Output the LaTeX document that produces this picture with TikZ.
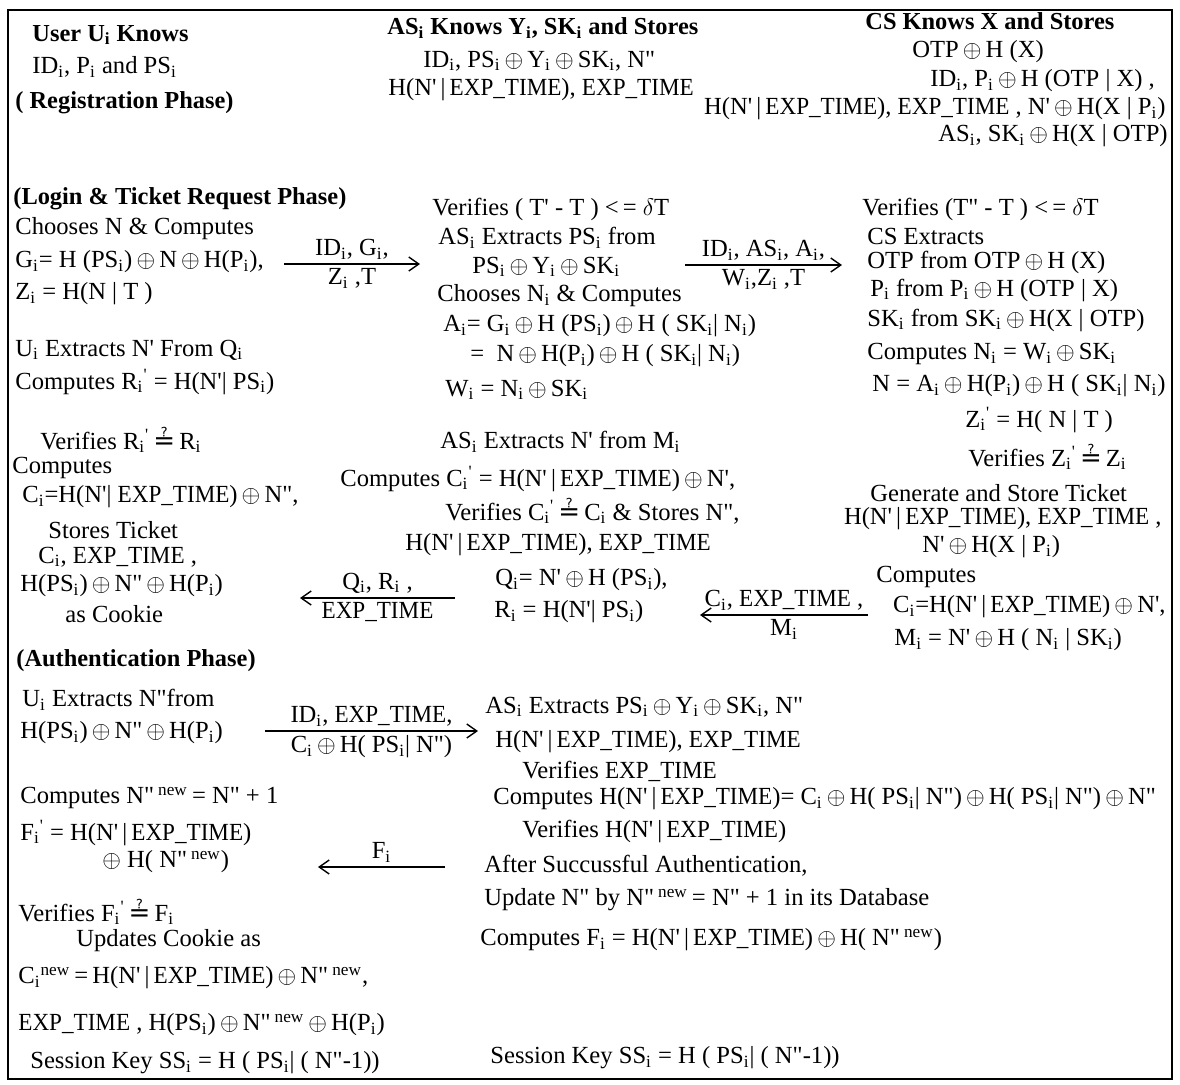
\documentclass[tikz,border=0pt]{standalone}
\usepackage{fontspec}
\setmainfont{Liberation Serif}
\newfontfamily\symfont{DejaVu Sans}
\usetikzlibrary{positioning,arrows.meta}

\newcommand{\si}{\textsubscript{i}}
\newcommand{\ps}{\textquotesingle}
\newcommand{\pd}{\textquotedbl}
\newcommand{\xo}{\,$\oplus$\,}
\newcommand{\pri}{\textsubscript{i}\textsuperscript{\textquotesingle}}
\newcommand{\qeq}{\,{\symfont\fontsize{13}{14}\selectfont ≟}\,}
\newcommand{\neweq}{\textsuperscript{new}\,=}
\newcommand{\nnew}{N\pd\,\textsuperscript{new}}
\newcommand{\ET}{\scalebox{0.94}[1]{EXP\_TIME}}
\newcommand{\HN}{H(N\ps\,|\,\ET)}

\begin{document}
\begin{tikzpicture}[x=0.5pt,y=-0.5pt,
    txt/.style={anchor=west,inner sep=0pt,font=\fontsize{12.3}{14}\selectfont},
    hd/.style={txt,font=\fontsize{12.2}{14}\selectfont\bfseries},
    lbl/.style={inner sep=2pt,font=\fontsize{12.3}{14}\selectfont},
    msg/.style={-{Straight Barb[length=5pt,width=7pt]},line width=0.7pt}]
    \useasboundingbox (0,0) rectangle (1180,1084);
    \draw[line width=1pt] (8,10) rectangle (1172,1079);

    \begin{scope}
      % Registration phase
      \node[hd] (uKnow) at (32,35) {User U\si\ Knows};
      \node[txt] (uHas) at (32,67) {ID\si, P\si\ and PS\si};
      \node[hd] (regPhase) at (15,103) {( Registration Phase)};
      \node[hd] (asKnow) at (387,28) {AS\si\ Knows Y\si, SK\si\ and Stores};
      \node[txt] (asHas1) at (423,61) {ID\si, PS\si\xo Y\si\xo SK\si, N\pd};
      \node[txt] (asHas2) at (388,90) {\HN, \ET};
      \node[hd] (csKnow) at (865,21) {CS Knows X and Stores};
      \node[txt] (csHas1) at (912,52) {OTP\xo H (X)};
      \node[txt] (csHas2) at (930,81) {ID\si, P\si\xo H (OTP | X) ,};
      \node[txt,anchor=east] (csHas3) at (1166,109) {\HN, \ET\ , N\ps\xo H(X | P\si)};
      \node[txt] (csHas4) at (938,136) {AS\si , SK\si\xo H(X | OTP)};
    \end{scope}

    \begin{scope}
      % Login & ticket request phase
      \node[hd] (loginPhase) at (13,199) {(Login \& Ticket Request Phase)};
      \node[txt] (u1) at (15,229) {Chooses N \& Computes};
      \node[txt] (u2) at (15,262) {G\si = H (PS\si)\xo N\xo H(P\si),};
      \node[txt] (u3) at (15,294) {Z\si\ = H(N | T )};
      \node[txt] (a1) at (432,209) {Verifies ( T\ps\ - T ) <\,= $\delta$T};
      \node[txt] (a2) at (438,238) {AS\si\ Extracts PS\si\ from};
      \node[txt] (a3) at (472,267) {PS\si\xo Y\si\xo SK\si};
      \node[txt] (a4) at (437,296) {Chooses N\si\ \& Computes};
      \node[txt] (a5) at (443,326) {A\si = G\si\xo H (PS\si)\xo H ( SK\si | N\si )};
      \node[txt] (a6) at (470,356) {= \ N\xo H(P\si)\xo H ( SK\si | N\si )};
      \node[txt] (a7) at (445,390) {W\si\ = N\si\xo SK\si};
      \node[txt] (c1) at (862,209) {Verifies (T\pd\ - T ) <\,= $\delta$T};
      \node[txt] (c2) at (867,236) {CS Extracts};
      \node[txt] (c3) at (867,262) {OTP from OTP\xo H (X)};
      \node[txt] (c4) at (870,290) {P\si\ from P\si\xo H (OTP | X)};
      \node[txt] (c5) at (867,320) {SK\si\ from SK\si\xo H(X | OTP)};
      \node[txt] (c6) at (867,354) {Computes N\si\ = W\si\xo SK\si};
      \node[txt] (c7) at (872,386) {N = A\si\xo H(P\si)\xo H ( SK\si | N\si )};
      \node[txt] (c8) at (965,420) {Z\pri\ = H( N | T )};
      \node[txt] (c9) at (968,457) {Verifies Z\pri\qeq Z\si};
      \coordinate (m1s) at (284,264);
      \coordinate (m1e) at (420,264);
      \draw[msg] (m1s) -- node[lbl,above] {ID\si, G\si,} node[lbl,below] {Z\si\ ,T} (m1e);
      \coordinate (m2s) at (685,265);
      \coordinate (m2e) at (842,265);
      \draw[msg] (m2s) -- node[lbl,above] {ID\si, AS\si, A\si,} node[lbl,below] {W\si ,Z\si\ ,T} (m2e);

      % ticket back to the user
      \node[txt] (u4) at (15,350) {U\si\ Extracts N\ps\ From Q\si};
      \node[txt] (u5) at (15,382) {Computes R\pri\ = H(N\ps | PS\si)};
      \node[txt] (u6) at (40,440) {Verifies R\pri\qeq R\si};
      \node[txt] (u7) at (12,468) {Computes};
      \node[txt] (u8) at (22,497) {C\si=H(N\ps | \ET)\xo N\pd,};
      \node[txt] (u9) at (48,530) {Stores Ticket};
      \node[txt] (u10) at (38,557) {C\si, \ET\ ,};
      \node[txt] (u11) at (20,586) {H(PS\si)\xo N\pd\xo H(P\si)};
      \node[txt] (u12) at (65,614) {as Cookie};
      \node[txt] (a8) at (440,442) {AS\si\ Extracts N\ps\ from M\si};
      \node[txt] (a9) at (340,479) {Computes C\pri\ = \HN\xo N\ps,};
      \node[txt] (a10) at (445,511) {Verifies C\pri\qeq C\si\ \& Stores N\pd,};
      \node[txt] (a11) at (405,545) {\HN, \ET};
      \node[txt] (a12) at (495,580) {Q\si = N\ps\xo H (PS\si),};
      \node[txt] (a13) at (494,612) {R\si\ = H(N\ps | PS\si)};
      \node[txt] (c10) at (870,493) {Generate and Store Ticket};
      \node[txt,anchor=east] (c11) at (1162,519) {\HN, \ET\ ,};
      \node[txt] (c12) at (922,547) {N\ps\xo H(X | P\si)};
      \node[txt] (c13) at (876,577) {Computes};
      \node[txt,anchor=east] (c14) at (1166,607) {C\si=\HN\xo N\ps,};
      \node[txt] (c15) at (894,640) {M\si\ = N\ps\xo H ( N\si\ | SK\si )};
      \coordinate (m3s) at (868,615);
      \coordinate (m3e) at (700,615);
      \draw[msg] (m3s) -- node[lbl,above] {C\si, \ET\ ,} node[lbl,below] {M\si} (m3e);
      \coordinate (m4s) at (455,598);
      \coordinate (m4e) at (300,598);
      \draw[msg] (m4s) -- node[lbl,above] {Q\si, R\si\ ,} node[lbl,below] {\ET} (m4e);
    \end{scope}

    \begin{scope}
      % Authentication phase
      \node[hd] (authPhase) at (16,661) {(Authentication Phase)};
      \node[txt] (u13) at (22,700) {U\si\ Extracts N\pd from};
      \node[txt] (u14) at (20,733) {H(PS\si)\xo N\pd\xo H(P\si)};
      \node[txt] (u15) at (20,798) {Computes N\pd\,\neweq\ N\pd\ + 1};
      \node[txt] (u16) at (20,833) {F\pri\ = \HN};
      \node[txt] (u17) at (102,862) {$\oplus$\ H( \nnew)};
      \node[txt] (u18) at (18,912) {Verifies F\pri\qeq F\si};
      \node[txt] (u19) at (76,941) {Updates Cookie as};
      \node[txt] (u20) at (18,978) {C\si\neweq\,\HN\xo \nnew,};
      \node[txt] (u21) at (18,1025) {\ET\ , H(PS\si)\xo \nnew\xo H(P\si)};
      \node[txt] (u22) at (30,1063) {Session Key SS\si\ = H ( PS\si | ( N\pd-1))};
      \node[txt] (a14) at (485,707) {AS\si\ Extracts PS\si\xo Y\si\xo SK\si, N\pd};
      \node[txt] (a15) at (495,742) {\HN, \ET};
      \node[txt] (a16) at (522,771) {Verifies \ET};
      \node[txt] (a17) at (493,799) {Computes \HN = C\si\xo H( PS\si | N\pd)\xo H( PS\si | N\pd)\xo N\pd};
      \node[txt] (a18) at (522,831) {Verifies \HN};
      \node[txt] (a19) at (484,866) {After Succussful Authentication,};
      \node[txt] (a20) at (484,900) {Update N\pd\ by N\pd\,\neweq\ N\pd\ + 1 in its Database};
      \node[txt] (a21) at (480,940) {Computes F\si\ = \HN\xo H( \nnew)};
      \node[txt] (a22) at (490,1058) {Session Key SS\si\ = H ( PS\si | ( N\pd-1))};
      \coordinate (m5s) at (265,731);
      \coordinate (m5e) at (478,731);
      \draw[msg] (m5s) -- node[lbl,above] {ID\si, \ET ,} node[lbl,below] {C\si\xo H( PS\si | N\pd)} (m5e);
      \coordinate (m6s) at (445,867);
      \coordinate (m6e) at (318,867);
      \draw[msg] (m6s) -- node[lbl,above] {F\si} (m6e);
    \end{scope}
  \end{tikzpicture}
\end{document}
